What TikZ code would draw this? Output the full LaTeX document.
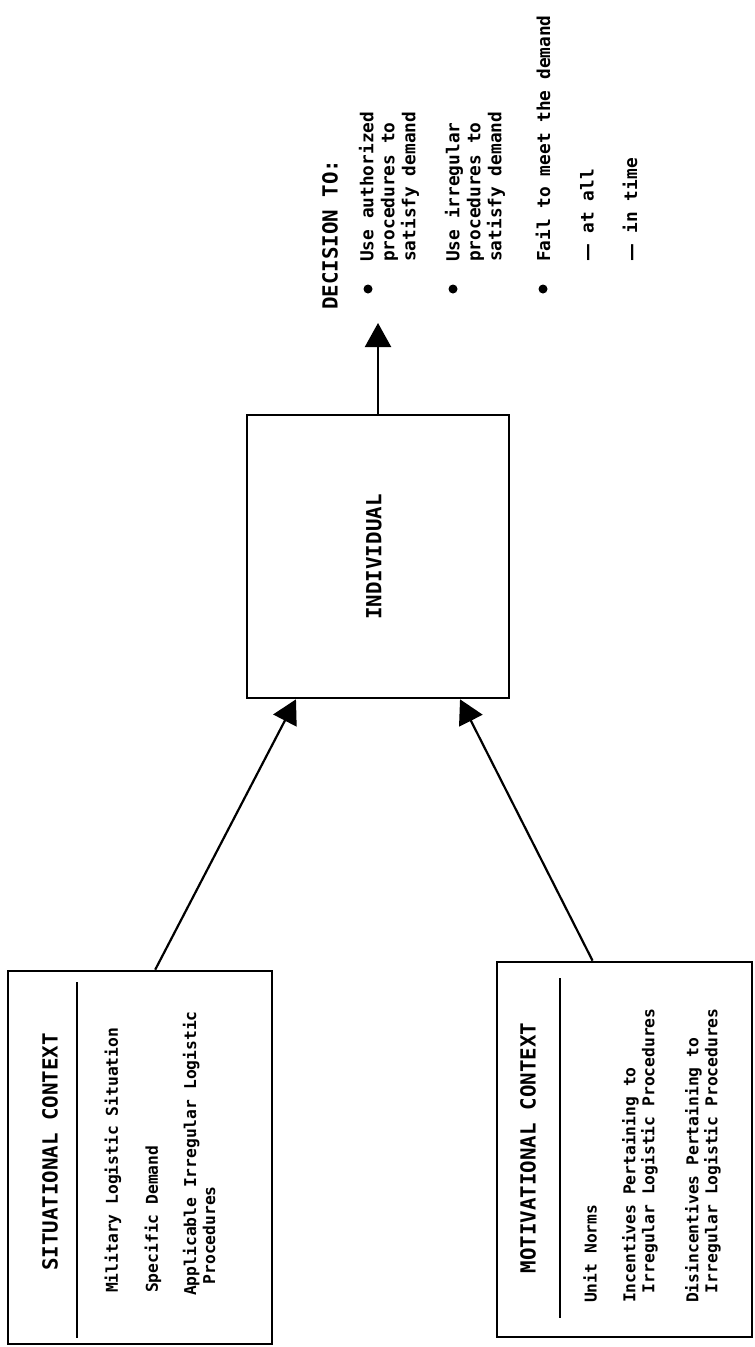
\documentclass[tikz,border=0pt]{standalone}
\usepackage{fontspec}
\setmainfont{DejaVu Sans Mono}
\newfontfamily\dashfont{DejaVu Sans}
\usetikzlibrary{arrows.meta,calc}

\newcommand\headfont{\fontsize{20.8}{24}\selectfont\bfseries}
\newcommand\bodyfont{\fontsize{16.3}{19}\selectfont\bfseries}
\newcommand\listfont{\fontsize{17.8}{21}\selectfont\bfseries}

\begin{document}
\begin{tikzpicture}[x=1pt,y=-1pt,
  box/.style={draw,line width=2.6pt,inner sep=0pt},
  vtext/.style={rotate=90,inner sep=0pt,align=left},
  flow/.style={-{Triangle[length=24pt,width=26pt]},line width=2.2pt}]
\useasboundingbox (0,0) rectangle (755,1347);

% boxes
\node[box,minimum width=262pt,minimum height=283pt] (indiv) at (378,556.5) {};
\node[box,minimum width=264pt,minimum height=373pt] (sit) at (140,1157.5) {};
\node[box,minimum width=255pt,minimum height=375pt] (mot) at (624.5,1149.5) {};
\node[vtext,font=\headfont] (indivtext) at (374,557) {INDIVIDUAL};

% situational context
\draw[line width=2.2pt] (77,982) -- (77,1338);
\node[vtext,font=\headfont] (sithead) at (50,1152) {SITUATIONAL CONTEXT};
\node[vtext,anchor=west,font=\bodyfont] (milsit) at (113,1293) {Military Logistic Situation};
\node[vtext,anchor=west,font=\bodyfont] (demand) at (153,1293) {Specific Demand};
\node[vtext,anchor=west,font=\bodyfont] (irrproc) at (199,1296) {Applicable Irregular Logistic\\\hspace*{0.7em}Procedures};

% motivational context
\draw[line width=2.2pt] (560,978) -- (560,1318);
\node[vtext,font=\headfont] (mothead) at (528,1148) {MOTIVATIONAL CONTEXT};
\node[vtext,anchor=west,font=\bodyfont] (norms) at (590,1303) {Unit Norms};
\node[vtext,anchor=west,font=\bodyfont] (incent) at (640,1303) {Incentives Pertaining to\\\hspace*{0.6em}Irregular Logistic Procedures};
\node[vtext,anchor=west,font=\bodyfont] (disinc) at (703,1303) {Disincentives Pertaining to\\\hspace*{0.6em}Irregular Logistic Procedures};

% decision
\node[vtext,anchor=west,font=\headfont] (dechead) at (330,310) {DECISION TO:};
\fill (368,289) circle[radius=4.5];
\node[vtext,anchor=west,font=\listfont] (useauth) at (389,262) {Use authorized\\procedures to\\satisfy demand};
\fill (453,289) circle[radius=4.5];
\node[vtext,anchor=west,font=\listfont] (useirr) at (475,262) {Use irregular\\procedures to\\satisfy demand};
\fill (543,289) circle[radius=4.5];
\node[vtext,anchor=west,font=\listfont] (fail) at (543,262) {Fail to meet the demand};
\node[vtext,anchor=west,font=\listfont] (atall) at (587,262) {{\dashfont —} at all};
\node[vtext,anchor=west,font=\listfont] (intime) at (630,262) {{\dashfont —} in time};

% arrows
\coordinate (dec) at (378,323);
\draw[flow] (indiv.north) -- (dec);
\draw[flow] ($(sit.north west)!0.557!(sit.north east)$) -- ($(indiv.south west)!0.19!(indiv.south east)$);
\draw[flow] ($(mot.north west)!0.376!(mot.north east)$) -- ($(indiv.south west)!0.81!(indiv.south east)$);
\end{tikzpicture}
\end{document}
